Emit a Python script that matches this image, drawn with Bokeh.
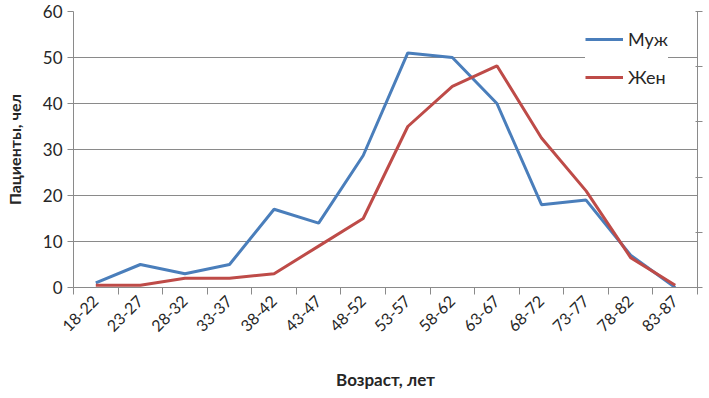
from bokeh.plotting import figure
from bokeh.models import (Range1d, FixedTicker, LinearAxis, Legend, LegendItem,
                          CustomJSTickFormatter)
from bokeh.embed import file_html
from bokeh.resources import INLINE
import math

categories = ["18-22", "23-27", "28-32", "33-37", "38-42", "43-47", "48-52",
              "53-57", "58-62", "63-67", "68-72", "73-77", "78-82", "83-87"]
men = [1, 5, 3, 5, 17, 14, 28.7, 51, 50, 40, 18, 19, 7, 0]
women = [0.5, 0.5, 2, 2, 3, 9, 15, 35, 43.7, 48.2, 32.5, 21, 6.5, 0.5]
y_ticks = [0, 10, 20, 30, 40, 50, 60]

FONT = "Lato"
TXT = "#262626"
GRID = "#8a8a8a"

n = len(categories)
xs = [i + 0.5 for i in range(n)]

p = figure(width=705, height=392, x_range=Range1d(0, n), y_range=Range1d(0, 60),
           output_backend="svg", toolbar_location=None,
           min_border_left=73, min_border_right=8, min_border_top=11, min_border_bottom=104)
p.outline_line_color = None
p.background_fill_color = "white"

# x axis
xa = p.xaxis[0]
xa.ticker = FixedTicker(ticks=xs, minor_ticks=list(range(n + 1)))
xa.major_label_overrides = {x: c for x, c in zip(xs, categories)}
xa.major_label_orientation = math.pi / 4
xa.major_tick_line_color = None
xa.minor_tick_in = 0
xa.minor_tick_out = 7
xa.minor_tick_line_color = GRID
xa.axis_line_color = GRID
xa.major_label_text_font = FONT
xa.major_label_text_font_size = "16px"
xa.major_label_text_color = TXT
xa.major_label_standoff = 4
xa.axis_label = "Возраст, лет"
xa.axis_label_text_font = FONT
xa.axis_label_text_font_size = "17px"
xa.axis_label_text_font_style = "bold"
xa.axis_label_text_color = TXT
xa.axis_label_standoff = 29

# y axis
ya = p.yaxis[0]
ya.ticker = FixedTicker(ticks=y_ticks)
ya.major_tick_in = 0
ya.major_tick_out = 6
ya.major_tick_line_color = GRID
ya.axis_line_color = GRID
ya.major_label_text_font = FONT
ya.major_label_text_font_size = "17px"
ya.major_label_text_color = TXT
ya.major_label_standoff = 5
ya.axis_label = "Пациенты, чел"
ya.axis_label_text_font = FONT
ya.axis_label_text_font_size = "16px"
ya.axis_label_text_font_style = "bold"
ya.axis_label_text_color = TXT
ya.axis_label_standoff = 16

# secondary right axis (no labels)
p.extra_y_ranges = {"right": Range1d(0, 5)}
ra = LinearAxis(y_range_name="right", ticker=FixedTicker(ticks=[0, 1, 2, 3, 4, 5]),
                formatter=CustomJSTickFormatter(code="return '';"))
ra.major_tick_in = 2
ra.major_tick_out = 5
ra.major_tick_line_color = GRID
ra.axis_line_color = GRID
ra.major_label_standoff = 0
p.add_layout(ra, "right")

p.xgrid.grid_line_color = None
p.ygrid.ticker = FixedTicker(ticks=y_ticks)
p.ygrid.grid_line_color = GRID
p.ygrid.grid_line_width = 1

r1 = p.line(xs, men, line_color="#4a7ebb", line_width=3)
r2 = p.line(xs, women, line_color="#be4b48", line_width=3)

legend = Legend(items=[LegendItem(label="Муж", renderers=[r1]),
                       LegendItem(label="Жен", renderers=[r2])],
                location=(512, 199))
legend.border_line_color = None
legend.background_fill_color = "white"
legend.background_fill_alpha = 1
legend.label_text_font = FONT
legend.label_text_font_size = "18px"
legend.label_text_color = TXT
legend.glyph_width = 38
legend.glyph_height = 20
legend.label_height = 20
legend.spacing = 16
legend.padding = 6
legend.margin = 0
legend.label_standoff = 5
p.add_layout(legend, "center")

open("out.html", "w").write(file_html(p, INLINE))
